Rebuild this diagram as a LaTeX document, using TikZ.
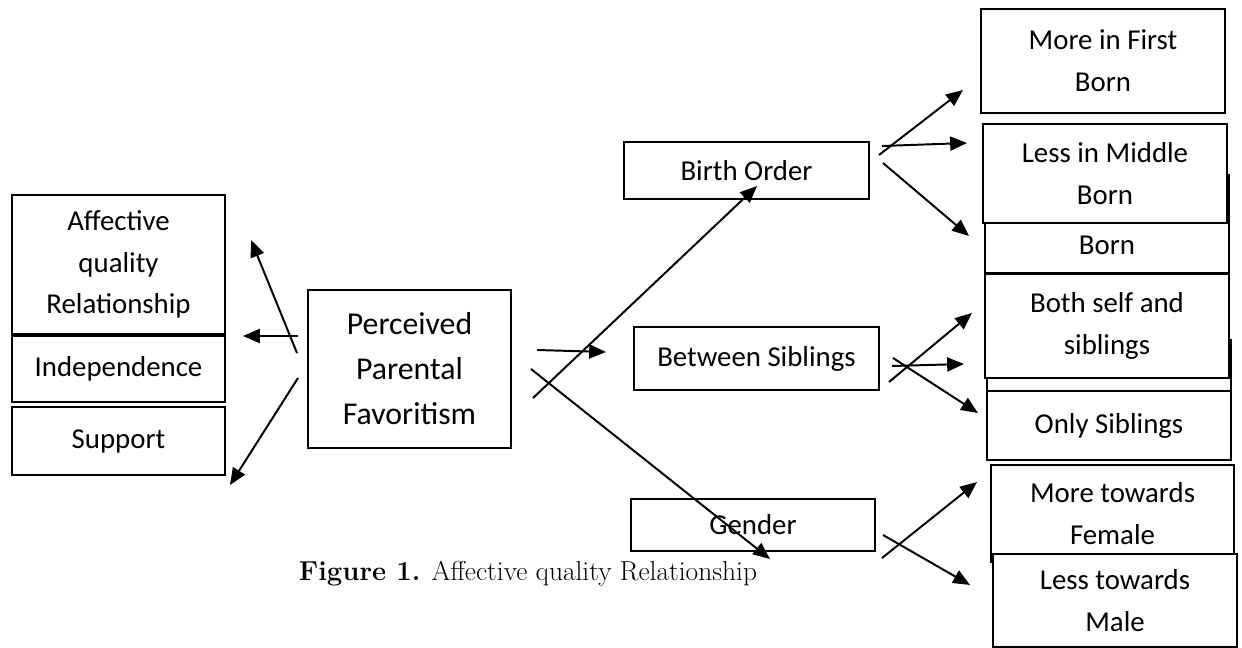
\documentclass[tikz,border=0pt]{standalone}
\usepackage{fontspec}
\setsansfont{Carlito}
\usetikzlibrary{positioning,arrows.meta}
\tikzset{box/.style={draw,rectangle,line width=1.4pt,fill=white,inner sep=0pt,align=center,minimum width=6.1cm,font=\sffamily\fontsize{20.5}{30}\selectfont},arr/.style={-{Triangle[length=12pt,width=10pt]},line width=1.4pt}}

\begin{document}
\begin{tikzpicture}[x=0.025cm,y=-0.025cm]
\useasboundingbox (0,0) rectangle (1242,648);
% left column
\node[box,minimum width=5.325cm,minimum height=3.475cm,font=\sffamily\fontsize{20.5}{29.5}\selectfont] (affect) at (118.5,264.5) {\raisebox{-3pt}{Affective}\\\raisebox{-3pt}{quality}\\\raisebox{-3pt}{Relationship}};
\node[box,minimum width=5.325cm,minimum height=1.65cm] (indep) at (118.5,369) {Independence};
\node[box,minimum width=5.325cm,minimum height=1.7cm] (support) at (118.5,441) {Support};
\node[box,minimum width=5.075cm,minimum height=3.95cm,font=\sffamily\fontsize{22.6}{32}\selectfont] (favor) at (409.5,369) {Perceived\\Parental\\Favoritism};
% middle column
\node[box,minimum width=6.125cm,minimum height=1.425cm] (birth) at (746.5,170.5) {Birth Order};
\node[box,minimum width=6.125cm,minimum height=1.575cm] (between) at (756.5,358.5) {Between Siblings};
\node[box,minimum height=1.3cm] (gender) at (753,525) {Gender};
% right column
\node[box,minimum height=2.6cm] (first) at (1103,61) {More in First\\Born};
\node[box,minimum height=2.45cm] (lastborn) at (1107,224) {\vphantom{B}\\Born};
\node[box,minimum height=2.475cm] (middle) at (1105,173.5) {Less in Middle\\Born};
\node[box,minimum height=1.275cm] (onlyself) at (1109,365.5) {};
\node[box,minimum height=2.6cm] (both) at (1107,326) {Both self and\\siblings};
\node[box,minimum height=1.725cm] (onlysib) at (1109,425.5) {Only Siblings};
\node[box,minimum width=6.075cm,minimum height=2.425cm] (female) at (1112.5,513.5) {More towards\\Female};
\node[box,minimum height=2.325cm] (male) at (1115,600.5) {Less towards\\Male};
% arrow ends
\coordinate (a1s) at (297,353); \coordinate (a1e) at (251,240);
\coordinate (a2s) at (298,336); \coordinate (a2e) at (243,336);
\coordinate (a3s) at (298,378); \coordinate (a3e) at (230,485);
\coordinate (b1s) at (537,350); \coordinate (b1e) at (606,352);
\coordinate (b2s) at (533,398); \coordinate (b2e) at (757,186);
\coordinate (b3s) at (531,369); \coordinate (b3e) at (770,559);
\coordinate (c1s) at (879,155); \coordinate (c1e) at (963,90);
\coordinate (c2s) at (882,146); \coordinate (c2e) at (967,143);
\coordinate (c3s) at (883,163); \coordinate (c3e) at (969,236);
\coordinate (d1s) at (889,382); \coordinate (d1e) at (972,313);
\coordinate (d2s) at (892,366); \coordinate (d2e) at (964,364);
\coordinate (d3s) at (893,358); \coordinate (d3e) at (978,413);
\coordinate (e1s) at (882,558); \coordinate (e1e) at (977,482);
\coordinate (e2s) at (883,535); \coordinate (e2e) at (970,585);
\foreach \a in {a1,a2,a3,b1,b2,b3,c1,c2,c3,d1,d2,d3,e1,e2}
  \draw[arr] (\a s) -- (\a e);
% caption
\node[font=\fontsize{19.5}{24}\selectfont] (caption) at (528,574) {\textbf{Figure 1.} Affective quality Relationship};
\end{tikzpicture}
\end{document}
